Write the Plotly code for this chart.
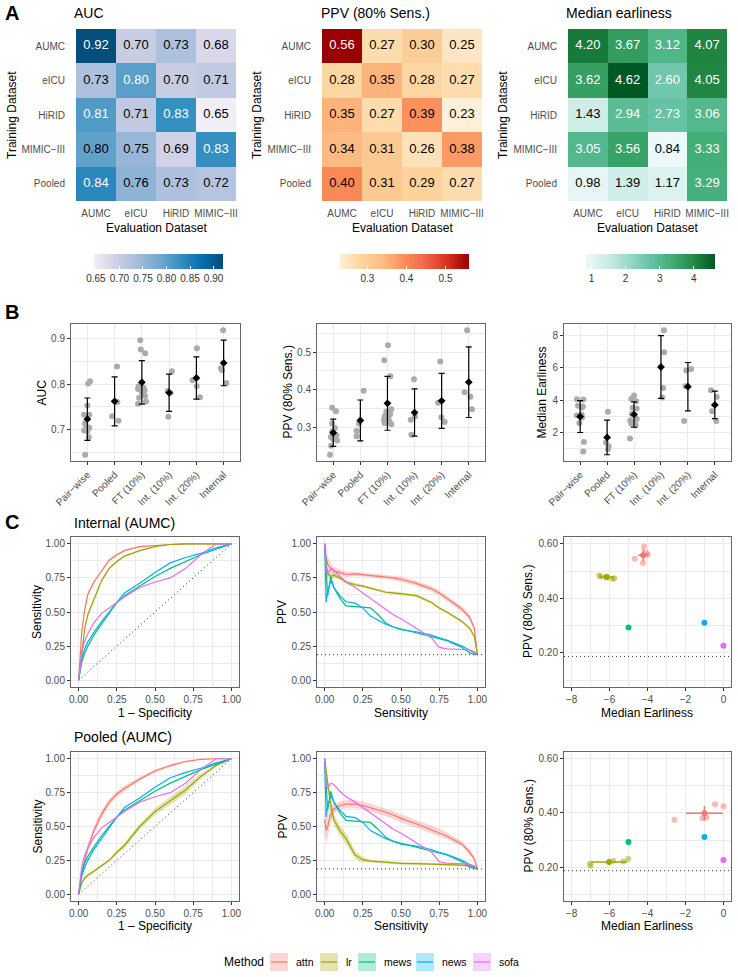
import numpy as np
import plotly.graph_objects as go

W, H = 738, 977
FONT = "Liberation Sans, Arial, sans-serif"
GRID = "#EBEBEB"
BORDER = "#666666"
TICK_TXT = "#4D4D4D"

# ---------------- panel A: heatmaps ----------------
train_sets = ["AUMC", "eICU", "HiRID", "MIMIC−III", "Pooled"]
eval_sets = ["AUMC", "eICU", "HiRID", "MIMIC−III"]

auc_grid = [[0.92, 0.70, 0.73, 0.68],
            [0.73, 0.802, 0.70, 0.71],
            [0.81, 0.71, 0.83, 0.646],
            [0.798, 0.75, 0.69, 0.83],
            [0.84, 0.76, 0.73, 0.72]]
ppv_grid = [[0.56, 0.27, 0.30, 0.25],
            [0.28, 0.35, 0.28, 0.27],
            [0.35, 0.27, 0.39, 0.23],
            [0.34, 0.31, 0.26, 0.38],
            [0.40, 0.31, 0.29, 0.27]]
early_grid = [[4.20, 3.67, 3.12, 4.07],
              [3.62, 4.62, 2.60, 4.05],
              [1.43, 2.94, 2.73, 3.06],
              [3.05, 3.56, 0.84, 3.33],
              [0.98, 1.39, 1.17, 3.29]]

PUBU = ["#f1eef6", "#d0d1e6", "#a6bddb", "#74a9cf", "#3690c0", "#0570b0", "#034e7b"]
ORRD = ["#fef0d9", "#fdd49e", "#fdbb84", "#fc8d59", "#ef6548", "#d7301f", "#990000"]
BUGN = ["#edf8fb", "#ccece6", "#99d8c9", "#66c2a4", "#41ae76", "#238b45", "#005824"]

# ---------------- panel B: summary dot plots ----------------
b_groups = ["Pair−wise", "Pooled", "FT (10%)", "Int. (10%)", "Int. (20%)", "Internal"]

auc_vals = [[0.806, 0.801, 0.753, 0.733, 0.733, 0.714, 0.705, 0.699, 0.697, 0.684, 0.710, 0.646],
            [0.838, 0.761, 0.730, 0.720],
            [0.895, 0.875, 0.867, 0.795, 0.792, 0.789, 0.786, 0.782, 0.774, 0.770, 0.762, 0.757],
            [0.828, 0.785, 0.781, 0.729],
            [0.878, 0.808, 0.795, 0.771],
            [0.917, 0.834, 0.830, 0.802]]
auc_jit = [[0.10, 0.03, 0.0, -0.12, 0.07, -0.09, 0.07, -0.12, 0.0, 0.05, -0.05, -0.08],
           [0.09, 0.10, -0.09, 0.14],
           [-0.06, -0.04, 0.12, -0.12, 0.06, -0.14, 0.10, 0.0, 0.12, -0.10, 0.15, -0.14],
           [0.10, -0.05, 0.05, -0.03],
           [0.02, -0.14, 0.01, 0.13],
           [-0.02, -0.10, -0.06, 0.10]]

ppv_vals = [[0.352, 0.343, 0.310, 0.298, 0.289, 0.279, 0.274, 0.268, 0.265, 0.251, 0.270, 0.227],
            [0.397, 0.310, 0.290, 0.276],
            [0.518, 0.478, 0.436, 0.348, 0.342, 0.335, 0.330, 0.325, 0.320, 0.315, 0.311, 0.308],
            [0.428, 0.329, 0.320, 0.280],
            [0.475, 0.365, 0.327, 0.314],
            [0.558, 0.393, 0.381, 0.348]]
ppv_jit = [[-0.04, 0.10, -0.04, 0.06, -0.04, 0.12, -0.09, 0.0, 0.14, -0.08, 0.04, -0.12],
           [0.12, -0.05, -0.14, -0.14],
           [0.02, -0.12, 0.11, 0.14, -0.04, 0.10, -0.10, 0.03, -0.13, 0.08, -0.10, 0.14],
           [-0.02, 0.02, -0.14, -0.12],
           [-0.05, -0.13, -0.01, 0.11],
           [-0.06, -0.15, 0.06, 0.12]]

early_vals = [[4.07, 4.05, 3.67, 3.62, 3.56, 3.12, 3.06, 3.05, 2.94, 2.60, 1.43, 0.84],
              [3.29, 1.39, 1.17, 0.98],
              [4.30, 4.10, 3.95, 3.55, 3.50, 3.15, 2.85, 2.75, 2.65, 2.55, 2.45, 1.65],
              [8.33, 6.97, 4.76, 4.18],
              [5.85, 5.93, 4.87, 2.72],
              [4.62, 4.20, 3.33, 2.73]]
early_jit = [[-0.12, 0.12, -0.08, 0.10, 0.06, 0.05, -0.12, 0.0, 0.07, -0.03, 0.14, 0.12],
             [0.03, -0.04, 0.06, 0.03],
             [0.0, -0.10, 0.08, -0.05, 0.10, -0.08, 0.10, -0.14, 0.02, -0.10, 0.06, -0.15],
             [0.11, 0.12, 0.08, 0.05],
             [-0.06, 0.12, -0.09, -0.14],
             [-0.14, 0.07, -0.10, 0.05]]

# ---------------- panel C: curves ----------------
methods = ["attn", "lr", "mews", "news", "sofa"]
method_colors = ["#F8766D", "#A3A500", "#00BF7D", "#00B0F6", "#E76BF3"]
prevalence = 0.187
diag = [0, 1]

roc_fpr = [0, 0.01, 0.02, 0.04, 0.06, 0.1, 0.15, 0.2, 0.25, 0.3, 0.4, 0.5, 0.6, 0.7, 0.8, 0.9, 1.0]
roc_internal = {
    "attn": [0, 0.22, 0.35, 0.52, 0.63, 0.72, 0.80, 0.88, 0.92, 0.95, 0.98, 0.99, 0.995, 1, 1, 1, 1],
    "lr":   [0, 0.10, 0.18, 0.38, 0.48, 0.59, 0.73, 0.82, 0.87, 0.91, 0.95, 0.98, 0.995, 1, 1, 1, 1],
}
roc_internal_band = {
    "attn": [0, 0.02, 0.02, 0.02, 0.015, 0.01, 0.01, 0.01, 0.008, 0.005, 0.004, 0.003, 0.002, 0, 0, 0, 0],
    "lr":   [0, 0.01, 0.02, 0.02, 0.02, 0.015, 0.01, 0.01, 0.008, 0.006, 0.004, 0.003, 0.002, 0, 0, 0, 0],
}
roc_pooled = {
    "attn": [0, 0.08, 0.15, 0.25, 0.34, 0.47, 0.59, 0.68, 0.74, 0.78, 0.85, 0.91, 0.95, 0.98, 0.995, 1, 1],
    "lr":   [0, 0.05, 0.08, 0.12, 0.14, 0.17, 0.21, 0.25, 0.31, 0.36, 0.50, 0.61, 0.69, 0.77, 0.87, 0.95, 1],
}
roc_pooled_band = {
    "attn": [0, 0.02, 0.03, 0.03, 0.03, 0.03, 0.03, 0.025, 0.02, 0.02, 0.015, 0.01, 0.01, 0.005, 0.003, 0, 0],
    "lr":   [0, 0.01, 0.01, 0.01, 0.01, 0.01, 0.01, 0.01, 0.015, 0.02, 0.02, 0.025, 0.03, 0.03, 0.02, 0.01, 0],
}
roc_scores = {
    "mews": [0, 0.10, 0.16, 0.23, 0.28, 0.35, 0.43, 0.50, 0.57, 0.62, 0.69, 0.76, 0.82, 0.87, 0.92, 0.96, 1],
    "news": [0, 0.08, 0.13, 0.20, 0.25, 0.33, 0.41, 0.49, 0.57, 0.64, 0.71, 0.79, 0.86, 0.90, 0.93, 0.97, 1],
    "sofa": [0, 0.13, 0.20, 0.29, 0.34, 0.42, 0.49, 0.53, 0.57, 0.61, 0.68, 0.72, 0.75, 0.82, 0.92, 1.0, 1],
}

pr_rec = [0, 0.01, 0.02, 0.04, 0.06, 0.1, 0.14, 0.2, 0.25, 0.3, 0.35, 0.4, 0.45, 0.5,
          0.6, 0.7, 0.75, 0.8, 0.9, 0.95, 0.98, 1.0]
pr_internal = {
    "attn": [0.95, 0.90, 0.85, 0.82, 0.80, 0.79, 0.775, 0.78, 0.775, 0.77, 0.765, 0.755, 0.75, 0.74,
             0.71, 0.67, 0.64, 0.60, 0.52, 0.46, 0.38, 0.19],
    "lr":   [1.0, 0.85, 0.78, 0.76, 0.77, 0.75, 0.72, 0.70, 0.69, 0.675, 0.66, 0.645, 0.64, 0.635,
             0.62, 0.57, 0.53, 0.50, 0.43, 0.38, 0.32, 0.19],
}
pr_internal_band = {
    "attn": [0.05, 0.10, 0.06, 0.04, 0.03, 0.02, 0.02, 0.015, 0.015, 0.015, 0.015, 0.015, 0.015, 0.02,
             0.02, 0.02, 0.02, 0.02, 0.02, 0.02, 0.02, 0.005],
    "lr":   [0.02, 0.05, 0.03, 0.02, 0.02, 0.015, 0.015, 0.015, 0.01, 0.01, 0.01, 0.01, 0.01, 0.01,
             0.01, 0.01, 0.01, 0.01, 0.01, 0.01, 0.01, 0.005],
}
pr_pooled = {
    "attn": [0.55, 0.47, 0.50, 0.59, 0.63, 0.655, 0.665, 0.665, 0.655, 0.64, 0.62, 0.605, 0.585, 0.56,
             0.52, 0.475, 0.455, 0.43, 0.37, 0.31, 0.26, 0.19],
    "lr":   [1.0, 0.90, 0.82, 0.66, 0.55, 0.47, 0.41, 0.29, 0.255, 0.245, 0.24, 0.235, 0.232, 0.228,
             0.226, 0.224, 0.222, 0.22, 0.215, 0.21, 0.20, 0.187],
}
pr_pooled_band = {
    "attn": [0.10, 0.10, 0.08, 0.06, 0.04, 0.03, 0.03, 0.03, 0.03, 0.03, 0.03, 0.03, 0.03, 0.03,
             0.03, 0.03, 0.03, 0.025, 0.02, 0.02, 0.02, 0.005],
    "lr":   [0.02, 0.05, 0.05, 0.05, 0.04, 0.04, 0.04, 0.03, 0.02, 0.01, 0.01, 0.01, 0.01, 0.01,
             0.01, 0.01, 0.01, 0.01, 0.01, 0.01, 0.01, 0.005],
}
pr_scores = {
    "mews": [1.0, 0.80, 0.62, 0.76, 0.68, 0.60, 0.545, 0.54, 0.535, 0.53, 0.48, 0.42, 0.39, 0.375,
             0.35, 0.32, 0.305, 0.29, 0.24, 0.20, 0.19, 0.187],
    "news": [1.0, 0.57, 0.65, 0.73, 0.68, 0.62, 0.575, 0.565, 0.53, 0.47, 0.44, 0.41, 0.39, 0.37,
             0.355, 0.33, 0.31, 0.295, 0.25, 0.22, 0.20, 0.187],
    "sofa": [1.0, 0.80, 0.78, 0.82, 0.81, 0.76, 0.72, 0.68, 0.64, 0.60, 0.56, 0.52, 0.48, 0.45,
             0.38, 0.31, 0.24, 0.23, 0.225, 0.22, 0.21, 0.187],
}

# earliness (negated) vs PPV at 80% sensitivity, per seed
sc_internal = {
    "attn": ([-4.18, -4.06, -3.98, -4.67, -4.24], [0.590, 0.567, 0.560, 0.545, 0.530]),
    "lr":   ([-6.55, -6.45, -6.15, -5.85, -5.75], [0.484, 0.479, 0.480, 0.472, 0.474]),
}
sc_pooled = {
    "attn": ([-2.58, -1.10, -0.89, -0.44, 0.0], [0.375, 0.380, 0.383, 0.432, 0.425]),
    "lr":   ([-7.02, -7.00, -5.80, -5.28, -5.02], [0.213, 0.205, 0.224, 0.221, 0.230]),
}
sc_scores = {"mews": (-5.0, 0.293), "news": (-1.0, 0.311), "sofa": (0.0, 0.226)}


def rgba(hexc, a):
    h = hexc.lstrip("#")
    return "rgba(%d,%d,%d,%.2f)" % (int(h[0:2], 16), int(h[2:4], 16), int(h[4:6], 16), a)


def px_x(x):
    return x / W


def px_y(y):
    return 1 - y / H


boxes = {
    1: (76, 236, 29, 201), 2: (322, 482, 29, 201), 3: (568, 727, 29, 201),
    4: (71, 240, 324, 461), 5: (317, 485, 324, 461), 6: (564, 731, 324, 461),
    7: (71, 239, 537, 687), 8: (317, 485, 537, 687), 9: (564, 731, 537, 687),
    10: (71, 239, 752, 901), 11: (317, 485, 752, 901), 12: (564, 731, 752, 901),
}


def sfx(i):
    return "" if i == 1 else str(i)


fig = go.Figure()
layout = {}

DOT = "1px,3px"
frame = dict(showline=True, mirror=True, linecolor=BORDER, linewidth=1,
             showgrid=True, gridcolor=GRID, gridwidth=1, zeroline=False, automargin=False,
             ticks="outside", ticklen=3, tickcolor="#333333", tickwidth=1,
             tickfont=dict(size=10, color=TICK_TXT))

for i, (x0, x1, y0, y1) in boxes.items():
    layout["xaxis" + sfx(i)] = dict(domain=[px_x(x0), px_x(x1)], anchor="y" + sfx(i), automargin=False)
    layout["yaxis" + sfx(i)] = dict(domain=[px_y(y1), px_y(y0)], anchor="x" + sfx(i), automargin=False)

# ---- heatmaps
heat = [(auc_grid, PUBU, 0.80, [0.65, 0.70, 0.75, 0.80, 0.85, 0.90], ".2f"),
        (ppv_grid, ORRD, 0.45, [0.3, 0.4, 0.5], ".1f"),
        (early_grid, BUGN, 2.0, [1, 2, 3, 4], "d")]
cbar_x = [94, 340, 586]
for k, (grid, cs, thr, tv, tf) in enumerate(heat):
    i = k + 1
    z = np.array(grid)
    cax = "coloraxis" + sfx(i)
    fig.add_trace(go.Heatmap(z=z, x=eval_sets, y=train_sets, coloraxis=cax,
                             xaxis="x" + sfx(i), yaxis="y" + sfx(i), hoverinfo="skip"))
    xs, ys, tx, tc = [], [], [], []
    for r, tname in enumerate(train_sets):
        for c, ename in enumerate(eval_sets):
            xs.append(ename)
            ys.append(tname)
            tx.append("%.2f" % grid[r][c])
            tc.append("white" if grid[r][c] > thr else "black")
    fig.add_trace(go.Scatter(x=xs, y=ys, mode="text", text=tx, xaxis="x" + sfx(i), yaxis="y" + sfx(i),
                             textfont=dict(size=13, color=tc), showlegend=False, hoverinfo="skip"))
    layout[cax] = dict(
        colorscale=[[j / (len(cs) - 1), c] for j, c in enumerate(cs)],
        cmin=float(z.min()), cmax=float(z.max()),
        colorbar=dict(orientation="h", x=px_x(cbar_x[k]), xanchor="left", y=px_y(254), yanchor="top",
                      len=129, lenmode="pixels", thickness=15, outlinewidth=0, xpad=0, ypad=0,
                      ticks="inside", tickcolor="white", ticklen=3, tickvals=tv, tickformat=tf,
                      tickfont=dict(size=10, color="#333333")))
    layout["xaxis" + sfx(i)].update(type="category", showgrid=False, showline=False, zeroline=False,
                                    range=[-0.5, 3.5], ticks="outside", ticklen=3,
                                    tickcolor="rgba(0,0,0,0)", tickfont=dict(size=10, color=TICK_TXT))
    layout["yaxis" + sfx(i)].update(type="category", showgrid=False, showline=False, zeroline=False,
                                    range=[4.5, -0.5], ticks="outside", ticklen=8,
                                    tickcolor="rgba(0,0,0,0)", tickfont=dict(size=10, color=TICK_TXT))

# ---- panel B
bset = [(auc_vals, auc_jit, [0.7, 0.8, 0.9], 0.05, ".1f"),
        (ppv_vals, ppv_jit, [0.3, 0.4, 0.5], 0.05, ".1f"),
        (early_vals, early_jit, [2, 4, 6, 8], 1, "d")]
for k, (vals, jit, tv, minor, tf) in enumerate(bset):
    i = k + 4
    px_, py_ = [], []
    for g, (vv, jj) in enumerate(zip(vals, jit)):
        px_ += [g + j for j in jj]
        py_ += vv
    fig.add_trace(go.Scatter(x=px_, y=py_, mode="markers", xaxis="x" + sfx(i), yaxis="y" + sfx(i),
                             marker=dict(size=6, color="#ABABAB"), showlegend=False, hoverinfo="skip"))
    means = [float(np.mean(v)) for v in vals]
    sds = [float(np.std(v, ddof=1)) for v in vals]
    fig.add_trace(go.Scatter(x=list(range(len(b_groups))), y=means, mode="markers",
                             xaxis="x" + sfx(i), yaxis="y" + sfx(i),
                             marker=dict(size=6, color="black", symbol="diamond"),
                             error_y=dict(type="data", array=sds, color="black", thickness=1.2, width=3),
                             showlegend=False, hoverinfo="skip"))
    lo = min(min(min(v) for v in vals), min(m - s for m, s in zip(means, sds)))
    hi = max(max(max(v) for v in vals), max(m + s for m, s in zip(means, sds)))
    pad = (hi - lo) * 0.05
    layout["xaxis" + sfx(i)].update(frame, range=[-0.6, 5.6], tickvals=list(range(6)), ticktext=b_groups,
                                    tickangle=-45)
    layout["yaxis" + sfx(i)].update(frame, range=[lo - pad, hi + pad], tickvals=tv, tickformat=tf,
                                    minor=dict(showgrid=True, dtick=minor, tick0=0, gridcolor=GRID,
                                               gridwidth=0.5))

# ---- panel C
shapes = []
crow = [(7, roc_internal, roc_internal_band, pr_internal, pr_internal_band, sc_internal),
        (10, roc_pooled, roc_pooled_band, pr_pooled, pr_pooled_band, sc_pooled)]
for base, roc_m, roc_b, pr_m, pr_b, sc_m in crow:
    ir, ip, isc = base, base + 1, base + 2
    fig.add_trace(go.Scatter(x=diag, y=diag, mode="lines", xaxis="x" + sfx(ir), yaxis="y" + sfx(ir),
                             line=dict(color="#333333", width=1, dash=DOT), showlegend=False,
                             hoverinfo="skip"))
    for a in (ip, isc):
        shapes.append(dict(type="line", xref="x" + sfx(a) + " domain", x0=0, x1=1, yref="y" + sfx(a),
                           y0=prevalence, y1=prevalence, line=dict(color="#333333", width=1, dash=DOT)))
    for ax, xg, models, bands, scores in [(ir, roc_fpr, roc_m, roc_b, roc_scores),
                                          (ip, pr_rec, pr_m, pr_b, pr_scores)]:
        for m, col in zip(methods, method_colors):
            if m in models:
                y = np.array(models[m])
                b = np.array(bands[m])
                fig.add_trace(go.Scatter(x=xg, y=np.clip(y - b, 0, 1), mode="lines",
                                         xaxis="x" + sfx(ax), yaxis="y" + sfx(ax),
                                         line=dict(width=0, color=col), showlegend=False, hoverinfo="skip"))
                fig.add_trace(go.Scatter(x=xg, y=np.clip(y + b, 0, 1), mode="lines", fill="tonexty",
                                         fillcolor=rgba(col, 0.3), xaxis="x" + sfx(ax), yaxis="y" + sfx(ax),
                                         line=dict(width=0, color=col), showlegend=False, hoverinfo="skip"))
        for m, col in zip(methods, method_colors):
            y = models[m] if m in models else scores[m]
            fig.add_trace(go.Scatter(x=xg, y=y, mode="lines", xaxis="x" + sfx(ax), yaxis="y" + sfx(ax),
                                     line=dict(width=1.2, color=col), showlegend=False, hoverinfo="skip"))
        layout["xaxis" + sfx(ax)].update(frame, range=[-0.05, 1.05], dtick=0.25, tick0=0, tickformat=".2f",
                                         minor=dict(showgrid=True, dtick=0.125, tick0=0, gridcolor=GRID,
                                                    gridwidth=0.5))
        layout["yaxis" + sfx(ax)].update(frame, range=[-0.05, 1.05], dtick=0.25, tick0=0, tickformat=".2f",
                                         minor=dict(showgrid=True, dtick=0.125, tick0=0, gridcolor=GRID,
                                                    gridwidth=0.5))
    for m, col in zip(methods, method_colors):
        if m in sc_m:
            xv, yv = sc_m[m]
            fig.add_trace(go.Scatter(x=xv, y=yv, mode="markers", xaxis="x" + sfx(isc), yaxis="y" + sfx(isc),
                                     marker=dict(size=6, color=rgba(col, 0.5)), showlegend=False,
                                     hoverinfo="skip"))
            fig.add_trace(go.Scatter(x=[np.mean(xv)], y=[np.mean(yv)], mode="markers",
                                     xaxis="x" + sfx(isc), yaxis="y" + sfx(isc),
                                     marker=dict(size=6, color=col),
                                     error_x=dict(type="data", array=[np.std(xv, ddof=1)], color=col,
                                                  thickness=1.5, width=0),
                                     error_y=dict(type="data", array=[np.std(yv, ddof=1)], color=col,
                                                  thickness=1.5, width=0),
                                     showlegend=False, hoverinfo="skip"))
        else:
            xv, yv = sc_scores[m]
            fig.add_trace(go.Scatter(x=[xv], y=[yv], mode="markers", xaxis="x" + sfx(isc),
                                     yaxis="y" + sfx(isc), marker=dict(size=6, color=col),
                                     showlegend=False, hoverinfo="skip"))
    layout["xaxis" + sfx(isc)].update(frame, range=[-8.4, 0.4], dtick=2, tick0=0, tickformat="d",
                                      minor=dict(showgrid=True, dtick=1, tick0=0, gridcolor=GRID,
                                                 gridwidth=0.5))
    layout["yaxis" + sfx(isc)].update(frame, range=[0.075, 0.625], dtick=0.2, tick0=0, tickformat=".2f",
                                      minor=dict(showgrid=True, dtick=0.1, tick0=0, gridcolor=GRID,
                                                 gridwidth=0.5))

# ---- text
ann = []


def txt(x, y, s, size=12, color="black", xanchor="center", angle=0, bold=False):
    ann.append(dict(x=px_x(x), y=px_y(y), xref="paper", yref="paper", text=("<b>%s</b>" % s) if bold else s,
                    showarrow=False, xanchor=xanchor, yanchor="middle", textangle=angle,
                    font=dict(size=size, color=color)))


txt(3, 13, "A", size=20, xanchor="left", bold=True)
txt(3, 312, "B", size=20, xanchor="left", bold=True)
txt(3, 522, "C", size=20, xanchor="left", bold=True)
for x0, title in zip([72, 319, 564], ["AUC", "PPV (80% Sens.)", "Median earliness"]):
    txt(x0, 13, title, size=14, xanchor="left")
for k, (x0, x1, y0, y1) in enumerate([boxes[1], boxes[2], boxes[3]]):
    txt([12, 257, 503][k], (y0 + y1) / 2, "Training Dataset", angle=-90)
    txt((x0 + x1) / 2, 228, "Evaluation Dataset")
for xc, s in zip([42, 288, 542], ["AUC", "PPV (80% Sens.)", "Median Earliness"]):
    txt(xc, (324 + 461) / 2, s, angle=-90)
txt(72, 523, "Internal (AUMC)", size=14, xanchor="left")
txt(72, 737, "Pooled (AUMC)", size=14, xanchor="left")
for yc, yx in [((537 + 687) / 2, 713), ((752 + 901) / 2, 926)]:
    for xc, s in zip([37, 282, 528], ["Sensitivity", "PPV", "PPV (80% Sens.)"]):
        txt(xc, yc, s, angle=-90)
    for xc, s in zip([155, 401, 647], ["1 – Specificity", "Sensitivity", "Median Earliness"]):
        txt(xc, yx, s)

# ---- legend
txt(222, 962, "Method", xanchor="left")
key_x = [270, 320, 358, 416, 473]
for kx, m, col in zip(key_x, methods, method_colors):
    shapes.append(dict(type="rect", xref="paper", yref="paper", x0=px_x(kx), x1=px_x(kx + 18),
                       y0=px_y(971), y1=px_y(953), fillcolor=rgba(col, 0.3), line=dict(width=0)))
    shapes.append(dict(type="line", xref="paper", yref="paper", x0=px_x(kx + 1), x1=px_x(kx + 17),
                       y0=px_y(962), y1=px_y(962), line=dict(color=col, width=1.2)))
    txt(kx + 24, 962, m, size=10.5, xanchor="left")

fig.update_layout(layout)
fig.update_layout(width=W, height=H, autosize=False, margin=dict(l=0, r=0, t=0, b=0, pad=0),
                  paper_bgcolor="white", plot_bgcolor="white", font=dict(family=FONT, color="black"),
                  showlegend=False, annotations=ann, shapes=shapes)

# page body has a default 8px margin; drop it so the figure sits at the window origin
fig.write_html("out.html", config={"displayModeBar": False},
               post_script="document.body.style.margin='0';document.body.style.overflow='hidden';")
